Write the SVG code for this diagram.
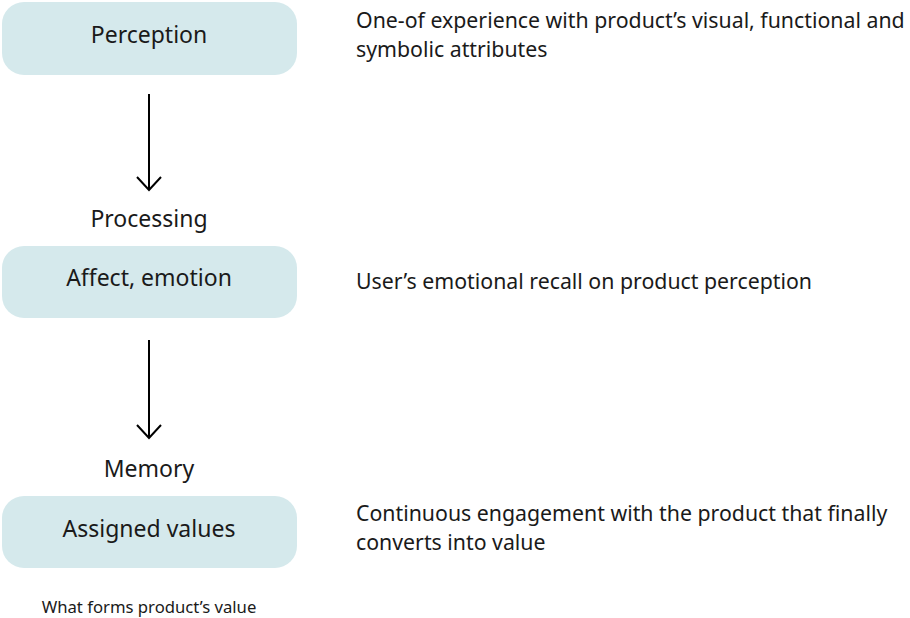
<svg xmlns="http://www.w3.org/2000/svg" width="910" height="618" viewBox="0 0 910 618">
<style>
.box{fill:#d5e9ec;}
.lbl{font-family:"Noto Sans","DejaVu Sans",sans-serif;font-size:23px;fill:#1a1a1a;text-anchor:middle;}
.desc{font-family:"Noto Sans","DejaVu Sans",sans-serif;font-size:21.3px;fill:#1a1a1a;}
.cap{font-family:"Noto Sans","DejaVu Sans",sans-serif;font-size:16.7px;fill:#1a1a1a;text-anchor:middle;}
.con{stroke:#000;stroke-width:2;fill:none;}
</style>
<rect width="910" height="618" fill="#fff"/>
<g id="perception">
<rect class="box" x="2" y="2" width="295" height="73" rx="22"/>
<text class="lbl" x="149" y="43">Perception</text>
</g>
<g id="affect">
<rect class="box" x="2" y="246" width="295" height="72" rx="22"/>
<text class="lbl" x="149" y="286">Affect, emotion</text>
</g>
<g id="assigned">
<rect class="box" x="2" y="496" width="295" height="72" rx="22"/>
<text class="lbl" x="149" y="537">Assigned values</text>
</g>
<g id="connectors">
<path class="con" d="M149 94V190M137 177L149 190L161 177"/>
<path class="con" d="M149 340V438M137 425L149 438L161 425"/>
<text class="lbl" x="149" y="227">Processing</text>
<text class="lbl" x="149" y="477">Memory</text>
</g>
<g id="descriptions">
<text class="desc" x="356" y="28">One-of experience with product’s visual, functional and</text>
<text class="desc" x="356" y="57">symbolic attributes</text>
<text class="desc" x="356" y="289">User’s emotional recall on product perception</text>
<text class="desc" x="356" y="521">Continuous engagement with the product that finally</text>
<text class="desc" x="356" y="550">converts into value</text>
</g>
<text class="cap" x="149" y="613">What forms product’s value</text>
</svg>
